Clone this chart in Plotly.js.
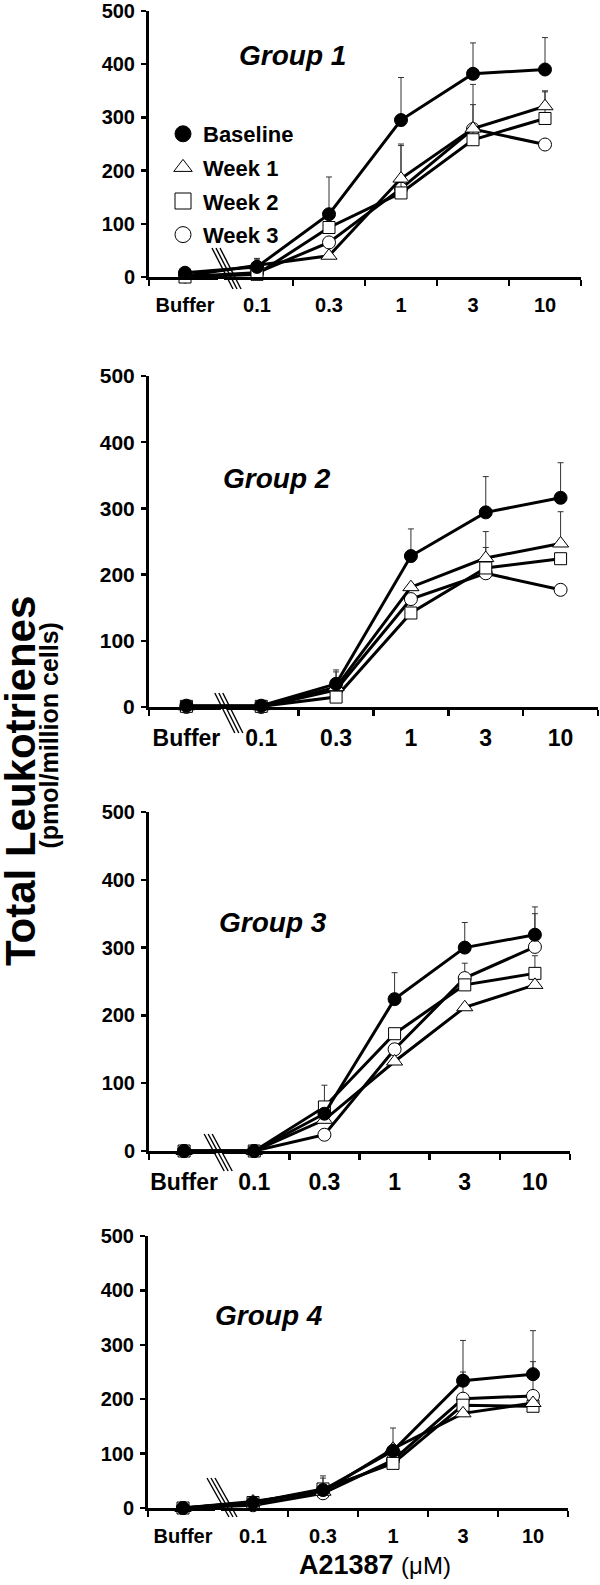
<!DOCTYPE html>
<html><head><meta charset="utf-8">
<script src="https://cdn.plot.ly/plotly-3.0.1.min.js"></script>
<style>html,body{margin:0;padding:0;background:#fff}</style>
</head><body><div id="chart" style="width:600px;height:1585px"></div>
<script>
const categories = ['Buffer', '0.1', '0.3', '1', '3', '10'];
const seriesNames = ['Baseline', 'Week 1', 'Week 2', 'Week 3'];
const groupTitles = ['Group 1', 'Group 2', 'Group 3', 'Group 4'];
const yTickValues = [0, 100, 200, 300, 400, 500];

// Group 1
const g1Baseline = [8, 19, 118, 295, 382, 390];
const g1BaselineErr = [0, 16, 70, 80, 58, 60];
const g1Week1 = [2, 22, 40, 185, 279, 321];
const g1Week1Err = [0, 10, 0, 65, 83, 29];
const g1Week2 = [0, 5, 93, 158, 258, 298];
const g1Week2Err = [0, 0, 0, 89, 66, 50];
const g1Week3 = [1, 8, 65, 166, 278, 249];
const g1Week3Err = [0, 0, 0, 0, 0, 0];

// Group 2
const g2Baseline = [2, 2, 35, 228, 294, 316];
const g2BaselineErr = [0, 0, 21, 41, 54, 53];
const g2Week1 = [1, 1, 30, 181, 225, 247];
const g2Week1Err = [0, 0, 23, 0, 40, 48];
const g2Week2 = [1, 1, 15, 142, 210, 224];
const g2Week2Err = [0, 0, 0, 0, 31, 0];
const g2Week3 = [0, 0, 26, 163, 202, 177];
const g2Week3Err = [0, 0, 0, 0, 0, 0];

// Group 3
const g3Baseline = [0, 0, 55, 224, 300, 319];
const g3BaselineErr = [0, 0, 0, 39, 37, 41];
const g3Week1 = [0, 0, 46, 132, 212, 245];
const g3Week1Err = [0, 0, 0, 0, 0, 0];
const g3Week2 = [0, 0, 65, 173, 245, 262];
const g3Week2Err = [0, 0, 32, 0, 0, 26];
const g3Week3 = [0, 0, 24, 150, 255, 301];
const g3Week3Err = [0, 0, 0, 0, 22, 49];

// Group 4
const g4Baseline = [0, 10, 33, 105, 234, 246];
const g4BaselineErr = [0, 0, 22, 42, 74, 80];
const g4Week1 = [0, 12, 30, 109, 174, 193];
const g4Week1Err = [0, 0, 0, 0, 0, 0];
const g4Week2 = [0, 10, 35, 82, 189, 187];
const g4Week2Err = [0, 0, 24, 0, 0, 0];
const g4Week3 = [0, 5, 27, 88, 201, 206];
const g4Week3Err = [0, 0, 0, 0, 49, 63];

const groups = [
  [g1Baseline, g1Week1, g1Week2, g1Week3],
  [g2Baseline, g2Week1, g2Week2, g2Week3],
  [g3Baseline, g3Week1, g3Week2, g3Week3],
  [g4Baseline, g4Week1, g4Week2, g4Week3]
];
const groupErrs = [
  [g1BaselineErr, g1Week1Err, g1Week2Err, g1Week3Err],
  [g2BaselineErr, g2Week1Err, g2Week2Err, g2Week3Err],
  [g3BaselineErr, g3Week1Err, g3Week2Err, g3Week3Err],
  [g4BaselineErr, g4Week1Err, g4Week2Err, g4Week3Err]
];

const W = 600, H = 1585;
const FONT = 'Liberation Sans, Arial, Helvetica, sans-serif';
const panels = [
  {xl: 149, xr: 581, y0: 277, y1: 11, yf: 20, xf: 20, tx: 292, ty: 55,
   brk: {top: 29, bot: -12, dxTop: -9, dxBot: 12}},
  {xl: 149, xr: 598, y0: 707, y1: 376, yf: 21, xf: 23, tx: 277, ty: 478,
   brk: {top: 14, bot: -26, dxTop: -9, dxBot: 11}},
  {xl: 149, xr: 570, y0: 1151, y1: 812, yf: 20, xf: 23, tx: 273, ty: 922,
   brk: {top: 17, bot: -20, dxTop: -15, dxBot: 5}},
  {xl: 148, xr: 568, y0: 1508, y1: 1236, yf: 20, xf: 20, tx: 269, ty: 1315,
   brk: {top: 30, bot: -9, dxTop: -11, dxBot: 11}}
];

const markerStyles = [
  {symbol: 'circle', color: '#000', size: 13},
  {symbol: 'triangle-up', color: '#fff', size: 14},
  {symbol: 'square', color: '#fff', size: 12},
  {symbol: 'circle', color: '#fff', size: 13}
];

const traces = [];
const layout = {
  width: W, height: H,
  margin: {l: 0, r: 0, t: 0, b: 0},
  paper_bgcolor: '#fff', plot_bgcolor: 'rgba(0,0,0,0)',
  font: {family: FONT, color: '#000'},
  showlegend: true,
  legend: {
    x: 163 / W, y: 1 - 113 / H, xanchor: 'left', yanchor: 'top',
    font: {family: FONT, size: 22, weight: 'bold', color: '#000'},
    bgcolor: 'rgba(0,0,0,0)', tracegroupgap: 2, traceorder: 'grouped',
    itemclick: false
  },
  annotations: [], shapes: []
};

panels.forEach((p, gi) => {
  const n = gi + 1;
  const xa = 'x' + (n === 1 ? '' : n), ya = 'y' + (n === 1 ? '' : n);
  const order = [3, 2, 1, 0];
  order.forEach(si => {
    const ms = markerStyles[si];
    traces.push({
      type: 'scatter', mode: 'lines+markers',
      x: categories, y: groups[gi][si], xaxis: xa, yaxis: ya,
      name: seriesNames[si], showlegend: false, cliponaxis: false,
      line: {color: '#000', width: 3},
      marker: {symbol: ms.symbol, size: ms.size, color: ms.color, line: {color: '#000', width: 1}},
      error_y: {type: 'data', symmetric: false, array: groupErrs[gi][si],
        arrayminus: groupErrs[gi][si].map(() => 0), color: '#333', thickness: 1, width: 3}
    });
  });
  layout['xaxis' + (n === 1 ? '' : n)] = {
    domain: [p.xl / W, p.xr / W], anchor: ya, type: 'category',
    categoryorder: 'array', categoryarray: categories, range: [-0.5, 5.5],
    showline: true, linewidth: 3, linecolor: '#000', showgrid: false, zeroline: false,
    ticks: 'outside', tickson: 'boundaries', ticklen: 6, tickwidth: 2.5, tickcolor: '#000',
    tickangle: 0,
    tickfont: {family: FONT, size: p.xf, weight: 'bold', color: '#000'},
    ticklabelstandoff: 8, fixedrange: true
  };
  layout['yaxis' + (n === 1 ? '' : n)] = {
    domain: [1 - p.y0 / H, 1 - p.y1 / H], anchor: xa, range: [0, 500],
    tickmode: 'array', tickvals: yTickValues,
    showline: true, linewidth: 3, linecolor: '#000', showgrid: false, zeroline: false,
    ticks: 'outside', ticklen: 5, tickwidth: 2.5, tickcolor: '#000',
    tickfont: {family: FONT, size: p.yf, weight: 'bold', color: '#000'},
    ticklabelstandoff: 2, fixedrange: true
  };
  layout.annotations.push({
    xref: 'paper', yref: 'paper', x: p.tx / W, y: 1 - p.ty / H,
    xanchor: 'center', yanchor: 'middle', showarrow: false,
    text: groupTitles[gi],
    font: {family: FONT, size: 28, weight: 'bold', style: 'italic', color: '#000'}
  });
  const axisY = 1 - p.y0 / H;
  layout.shapes.push({
    type: 'rect', xref: xa, yref: 'paper', xsizemode: 'pixel', ysizemode: 'pixel',
    xanchor: 0.5, yanchor: axisY, x0: -3, x1: 3, y0: -2, y1: -9,
    fillcolor: '#fff', line: {width: 0}, layer: 'above'
  });
  [0, 4, 8].forEach(off => {
    layout.shapes.push({
      type: 'line', xref: xa, yref: 'paper', xsizemode: 'pixel', ysizemode: 'pixel',
      xanchor: 0.5, yanchor: axisY,
      x0: p.brk.dxTop + off, y0: p.brk.top, x1: p.brk.dxBot + off, y1: p.brk.bot,
      line: {color: '#000', width: 1.4}, layer: 'above'
    });
  });
});

seriesNames.forEach((nm, si) => {
  const ms = markerStyles[si];
  traces.push({
    type: 'scatter', mode: 'markers', x: [null], y: [null], xaxis: 'x', yaxis: 'y',
    name: nm, legendgroup: 'g' + si, showlegend: true, hoverinfo: 'skip',
    marker: {symbol: ms.symbol, size: 16, color: ms.color, line: {color: '#000', width: 1}}
  });
});

layout.annotations.push({
  xref: 'paper', yref: 'paper', x: 20 / W, y: 1 - 781 / H, xanchor: 'center', yanchor: 'middle',
  showarrow: false, textangle: -90, text: 'Total Leukotrienes', borderpad: 0,
  font: {family: FONT, size: 42, weight: 'bold', color: '#000'}
});
layout.annotations.push({
  xref: 'paper', yref: 'paper', x: 48.5 / W, y: 1 - 736 / H, xanchor: 'center', yanchor: 'middle',
  showarrow: false, textangle: -90, text: '(pmol/million cells)', borderpad: 0,
  font: {family: FONT, size: 25, weight: 'bold', color: '#000'}
});
layout.annotations.push({
  xref: 'paper', yref: 'paper', x: 375 / W, y: 1 - 1565 / H, xanchor: 'center', yanchor: 'middle',
  showarrow: false, text: '<b>A21387</b> <span style="font-size:24px">(μM)</span>',
  font: {family: FONT, size: 27, color: '#000'}
});

Plotly.newPlot('chart', traces, layout, {staticPlot: true, displayModeBar: false});
</script>
</body></html>
